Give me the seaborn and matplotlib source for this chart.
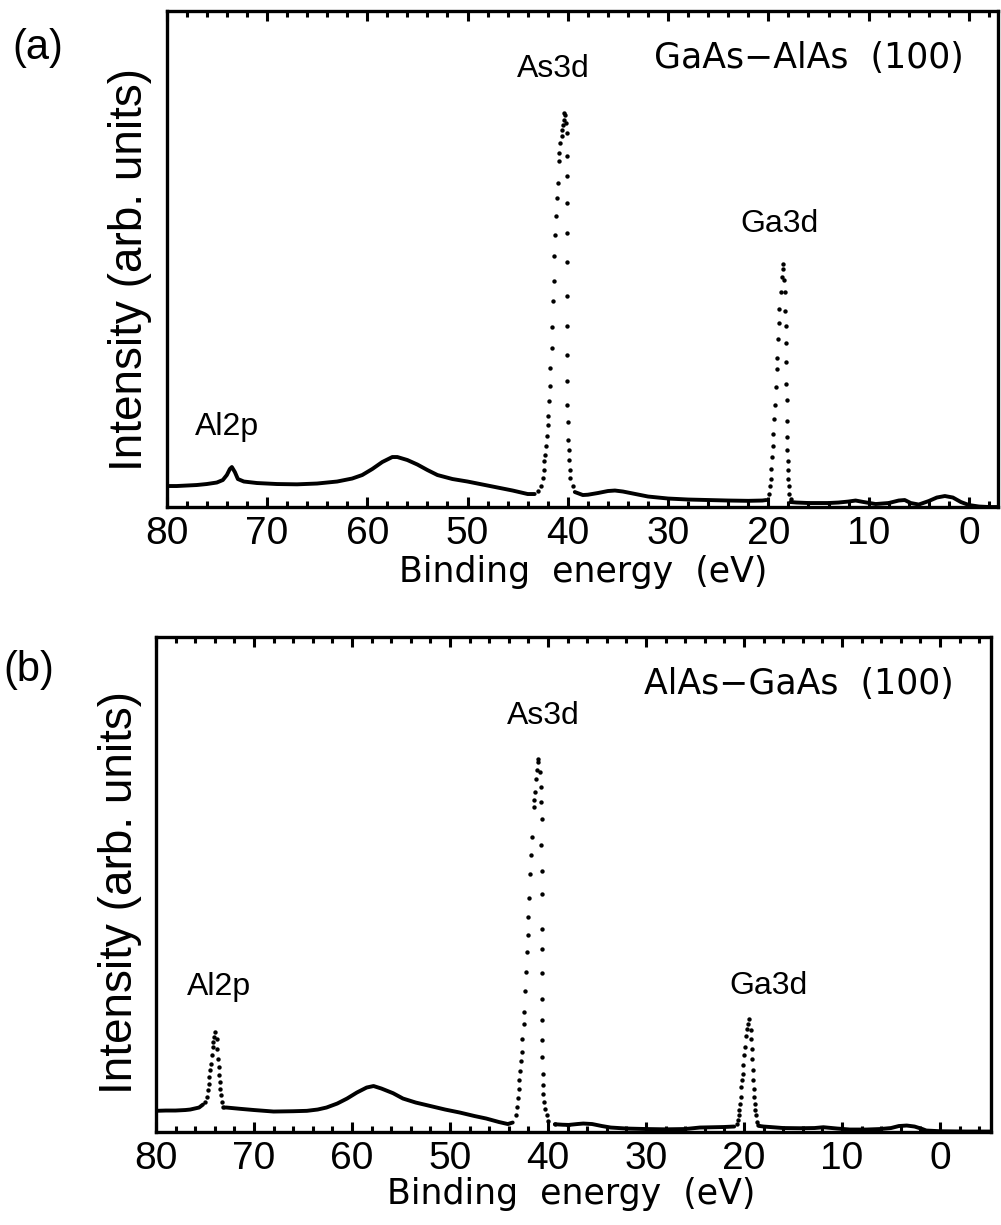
import matplotlib
matplotlib.use("Agg")
import matplotlib.pyplot as plt
from matplotlib.ticker import MultipleLocator
import pandas as pd
import seaborn as sns

# ---------------- panel (a): GaAs-AlAs (100) ----------------
# continuous background trace (binding energy in eV, intensity in arb. units)
a_bg1_ev = [80.0, 79.0, 78.0, 77.0, 76.0, 75.0, 74.4, 74.0, 73.7, 73.5, 73.2, 72.9,
            72.3, 71.0, 69.0, 67.0, 65.0, 63.0, 61.5, 60.5, 59.5, 58.5, 57.5, 57.0,
            56.0, 55.0, 54.0, 53.0, 51.5, 50.0, 48.5, 47.0, 45.5, 44.0, 43.3]
a_bg1_int = [21, 21, 21.5, 22, 23, 24.5, 27, 32, 38, 40, 35, 28,
             25.5, 24, 23, 22.7, 23.5, 25.5, 28.5, 32, 38, 45, 50, 50,
             47, 42.5, 37, 32, 28, 25.5, 22.5, 19.5, 16.5, 13, 13]
a_bg2_ev = [39.3, 38.5, 38.0, 37.0, 36.0, 35.3, 34.5, 33.5, 32.0, 30.0, 28.0, 26.0,
            24.0, 22.0, 20.6, 20.2]
a_bg2_int = [15, 12, 12.3, 14, 16, 16.5, 15.5, 13.5, 10.5, 8.5, 7.5, 7,
             6.5, 6.2, 6.5, 7]
a_bg3_ev = [17.8, 17.2, 16.0, 15.0, 14.0, 13.0, 12.0, 11.3, 10.5, 9.3, 8.0, 7.0,
            6.4, 5.8, 5.0, 4.0, 3.2, 2.4, 1.6, 0.8, 0.0, -1.0, -2.0, -2.9]
a_bg3_int = [5, 4.5, 4, 4, 4, 4.5, 5.5, 6.5, 5, 3, 4, 6.5,
             7, 4, 2.5, 6, 9.5, 11, 9.5, 5, 2, 0.5, 0, 0]

# individual data points on the sharp core-level peaks
a_as3d_ev = [40.27, 40.33, 40.40, 40.47, 40.54, 40.60, 40.74, 40.84, 40.90, 41.00,
             41.07, 41.17, 41.24, 41.34, 41.40, 41.47, 41.57, 41.60, 41.74, 41.80,
             41.90, 41.94, 42.00, 42.07, 42.14, 42.24, 42.34, 42.40, 42.50, 42.67,
             43.00,
             40.17, 40.10, 40.09, 40.08, 40.08, 40.07, 40.07, 40.07, 40.06, 40.06,
             40.05, 40.04, 40.00, 39.94, 39.92, 39.87, 39.80, 39.74, 39.50]
a_as3d_int = [392, 394, 387, 382, 377, 371, 364, 354, 346, 324,
              309, 291, 272, 251, 226, 206, 180, 159, 139, 121,
              106, 91, 82, 71, 61, 52, 46, 37, 29, 21,
              16,
              384, 374, 351, 331, 304, 274, 245, 211, 181, 152,
              126, 102, 85, 67, 57, 47, 37, 29, 21]
a_ga3d_ev = [18.57, 18.50, 18.64, 18.44,
             18.77, 18.90, 18.97, 19.04, 19.10, 19.17, 19.27, 19.37, 19.44, 19.54,
             19.57, 19.64, 19.70, 19.77, 19.84, 19.90,
             18.34, 18.30, 18.27, 18.24, 18.23, 18.22, 18.17, 18.16, 18.15, 18.10,
             18.09, 18.07, 18.00, 17.97, 17.90, 17.77]
a_ga3d_int = [243, 238, 230, 227,
              215, 198, 184, 168, 149, 138, 120, 102, 88, 73,
              61, 50, 38, 28, 21, 13,
              215, 196, 181, 164, 145, 123, 107, 86, 70, 57,
              46, 37, 28, 21, 13, 8]

# ---------------- panel (b): AlAs-GaAs (100) ----------------
b_bg1_ev = [80.0, 79.0, 78.0, 77.0, 76.5, 75.6, 75.2]
b_bg1_int = [20.7, 21, 21, 21.5, 22, 24, 27]
b_bg2_ev = [73.0, 72.8, 71.4, 70.0, 68.0, 66.0, 64.6, 63.5, 62.6, 61.5, 60.5, 59.5,
            58.5, 57.8, 57.0, 55.8, 54.8, 53.5, 52.0, 50.5, 49.0, 47.5, 46.3, 45.0,
            44.1, 43.6]
b_bg2_int = [24, 24, 22.7, 21.5, 20, 20.3, 20.7, 22, 24, 28, 33, 39,
             44, 45.5, 43, 38.3, 33, 29, 25.5, 22, 19, 15.5, 13, 9.5,
             7.5, 9]
b_bg3_ev = [39.3, 38.5, 37.9, 37.0, 36.4, 35.5, 34.5, 33.6, 32.0, 30.0, 28.0, 26.0,
            24.5, 22.1, 21.0]
b_bg3_int = [7.3, 6.8, 6.6, 7.5, 8, 7.5, 5.5, 4, 3, 2.5, 2.2, 2.5,
             4, 4.5, 5]
b_bg4_ev = [18.4, 18.0, 16.0, 14.3, 12.8, 11.9, 10.5, 9.2, 7.5, 6.1, 5.0, 4.2,
            3.4, 2.6, 1.8, 1.4, 0.0, -2.7, -5.2]
b_bg4_int = [5.5, 5, 3.5, 3.3, 3.5, 4.3, 3, 2, 2, 2.5, 3.5, 5.5,
             6, 5, 2.5, 1, 0.3, 0, 0]

b_al2p_ev = [75.00, 74.83, 74.69, 74.62, 74.56, 74.49, 74.42, 74.32, 74.22, 74.15,
             74.08, 73.98,
             73.81, 73.74, 73.64, 73.57, 73.54, 73.47, 73.43, 73.37, 73.30, 73.13]
b_al2p_int = [30, 35, 42, 48, 55, 62, 68, 77, 85, 90,
              95, 100,
              93, 83, 73, 65, 57, 50, 43, 37, 30, 25]
b_as3d_ev = [40.99, 41.06, 41.16, 41.26, 41.33, 41.47, 41.43, 41.67, 41.74, 41.84,
             41.91, 42.01, 42.08, 42.15, 42.25, 42.35, 42.42, 42.49, 42.62, 42.69,
             42.76, 42.86, 42.93, 43.00, 43.10, 43.20, 43.30,
             40.82, 40.72, 40.71, 40.66, 40.70, 40.65, 40.65, 40.64, 40.64, 40.63,
             40.62, 40.61, 40.58, 40.57, 40.55, 40.48, 40.47, 40.41, 40.31, 40.14,
             39.97, 39.29, 37.93]
b_as3d_int = [373, 370, 362, 353, 340, 332, 325, 295, 277, 258,
              234, 215, 197, 180, 160, 141, 120, 108, 93, 80,
              71, 61, 52, 43, 34, 25, 17,
              360, 345, 330, 313, 287, 261, 238, 203, 183, 159,
              133, 112, 92, 75, 58, 47, 38, 30, 23, 17,
              11, 7.3, 6.6]
b_ga3d_ev = [19.46, 19.56, 19.66, 19.80, 19.90, 19.97, 20.07, 20.14, 20.20, 20.27,
             20.34, 20.41, 20.48, 20.54, 20.65, 20.75,
             19.32, 19.31, 19.22, 19.21, 19.12, 19.05, 18.98, 18.95, 18.91, 18.88,
             18.81, 18.71, 18.54]
b_ga3d_int = [113, 108, 103, 96, 85, 77, 67, 58, 52, 45,
              35, 28, 22, 17, 12, 7.3,
              102, 93, 83, 73, 62, 52, 43, 35, 28, 22,
              17, 10, 6.6]

# peak labels: (text, binding energy, intensity)
a_labels = [("As3d", 41.47, 430), ("Ga3d", 18.85, 275), ("Al2p", 73.99, 72)]
b_labels = [("As3d", 40.51, 408), ("Ga3d", 17.55, 138), ("Al2p", 73.57, 137)]
a_sample = "GaAs\u2212AlAs  (100)"
b_sample = "AlAs\u2212GaAs  (100)"


def trace_frame(*segments):
    rows = []
    for k, (ev, inten) in enumerate(segments):
        rows.append(pd.DataFrame({"ev": ev, "intensity": inten, "seg": k}))
    return pd.concat(rows, ignore_index=True)


def dots_frame(*peaks):
    rows = [pd.DataFrame({"ev": ev, "intensity": inten}) for ev, inten in peaks]
    return pd.concat(rows, ignore_index=True)


a_trace = trace_frame((a_bg1_ev, a_bg1_int), (a_bg2_ev, a_bg2_int), (a_bg3_ev, a_bg3_int))
a_dots = dots_frame((a_as3d_ev, a_as3d_int), (a_ga3d_ev, a_ga3d_int))
b_trace = trace_frame((b_bg1_ev, b_bg1_int), (b_bg2_ev, b_bg2_int),
                      (b_bg3_ev, b_bg3_int), (b_bg4_ev, b_bg4_int))
b_dots = dots_frame((b_al2p_ev, b_al2p_int), (b_as3d_ev, b_as3d_int), (b_ga3d_ev, b_ga3d_int))

sns.set_theme(style="ticks")
plt.rcParams["font.family"] = ["DejaVu Sans"]
for key in ("axes.edgecolor", "text.color", "axes.labelcolor", "xtick.color",
            "ytick.color"):
    plt.rcParams[key] = "black"

LAB_FONT = ["Liberation Sans", "DejaVu Sans"]

fig = plt.figure(figsize=(10.01, 12.25), dpi=100)
ax_a = fig.add_axes([0.1665, 0.5861, 0.8305, 0.4049])
ax_b = fig.add_axes([0.1558, 0.0763, 0.8342, 0.4037])


def draw_panel(ax, trace, dots, xmax_right, ytop, labels, sample, sample_xy,
               xlabel_xy, ylabel_xy):
    sns.lineplot(data=trace, x="ev", y="intensity", units="seg", estimator=None,
                 sort=False, color="black", linewidth=2.8, legend=False, ax=ax)
    sns.scatterplot(data=dots, x="ev", y="intensity", color="black", s=10,
                    linewidth=0, legend=False, ax=ax)
    ax.set_xlim(80, xmax_right)
    ax.set_ylim(0, ytop)
    ax.set_yticks([])
    ax.xaxis.set_major_locator(MultipleLocator(10))
    ax.xaxis.set_minor_locator(MultipleLocator(2))
    ax.tick_params(axis="x", which="both", direction="in", top=True, bottom=True,
                   width=2.2, color="black", labelcolor="black", pad=6.5)
    ax.tick_params(axis="x", which="major", length=7.5, labelsize=28)
    ax.tick_params(axis="x", which="minor", length=4)
    for lbl in ax.get_xticklabels():
        lbl.set_fontfamily(LAB_FONT)
    for sp in ax.spines.values():
        sp.set_linewidth(2.4)
        sp.set_color("black")
    ax.set_xlabel("Binding  energy  (eV)", fontsize=25, color="black")
    ax.xaxis.set_label_coords(*xlabel_xy)
    ax.xaxis.label.set_va("top")
    ax.set_ylabel("Intensity (arb. units)", fontsize=33, family=LAB_FONT,
                  color="black")
    ax.yaxis.set_label_coords(*ylabel_xy)
    for text, ev, inten in labels:
        ax.text(ev, inten, text, ha="center", va="baseline", fontsize=23,
                family=LAB_FONT, color="black")
    ax.text(sample_xy[0], sample_xy[1], sample, ha="center", va="baseline",
            fontsize=25, color="black")


draw_panel(ax_a, a_trace, a_dots, -2.9, 496, a_labels, a_sample, (15.96, 438.7),
           (0.5008, -0.0968), (-0.0177, 0.478))
draw_panel(ax_b, b_trace, b_dots, -5.2, 494.5, b_labels, b_sample, (14.39, 437.5),
           (0.497, -0.092), (-0.0168, 0.483))

fig.text(0.038, 0.9608, "(a)", ha="center", va="center", fontsize=30,
         family=LAB_FONT, color="black")
fig.text(0.029, 0.453, "(b)", ha="center", va="center", fontsize=30,
         family=LAB_FONT, color="black")

fig.savefig("out.png", dpi=100, facecolor="white")
